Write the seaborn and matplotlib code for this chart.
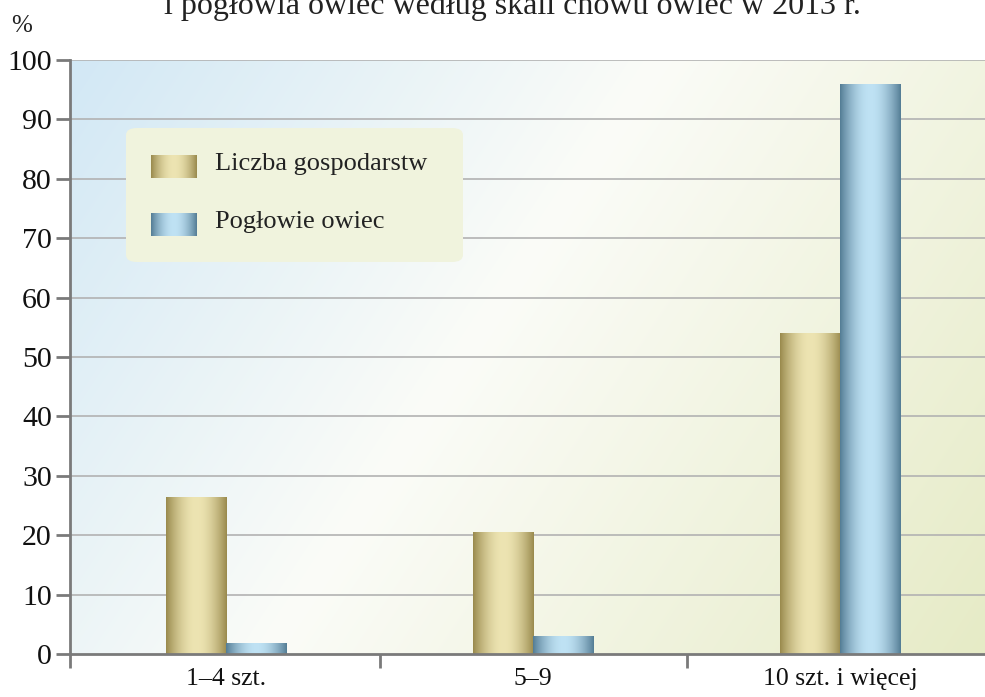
import numpy as np
import pandas as pd
import matplotlib
matplotlib.use("Agg")
import matplotlib.pyplot as plt
import seaborn as sns
from matplotlib.patches import FancyBboxPatch
from matplotlib.colors import to_rgb

categories = ["1–4 szt.", "5–9", "10 szt. i więcej"]
series_names = ["Liczba gospodarstw", "Pogłowie owiec"]
liczba_gospodarstw = [26.4, 20.5, 54.0]
poglowie_owiec = [1.8, 3.0, 95.8]
yticks = [0, 10, 20, 30, 40, 50, 60, 70, 80, 90, 100]
title_text = "i pogłowia owiec według skali chowu owiec w 2013 r."
unit_label = "%"

df = pd.DataFrame({
    "kat": categories * 2,
    "seria": [series_names[0]] * 3 + [series_names[1]] * 3,
    "val": liczba_gospodarstw + poglowie_owiec,
})

sns.set_theme(style="white")
plt.rcParams["font.family"] = ["Liberation Serif", "DejaVu Serif"]

W, H = 985, 697
fig = plt.figure(figsize=(W / 100, H / 100), dpi=100)
ax_left, ax_right, ax_top, ax_bot = 70, 985, 60, 654
ax = fig.add_axes([ax_left / W, 1 - ax_bot / H, (ax_right - ax_left) / W, (ax_bot - ax_top) / H])

colors = {"gold_edge": "#9a8b4e", "gold_mid": "#ede4b2", "blue_edge": "#557e96", "blue_mid": "#bfe2f4"}

sns.barplot(data=df, x="kat", y="val", hue="seria", order=categories, hue_order=series_names,
            palette=["#c8b97c", "#8fb5cc"], width=0.394, gap=0, saturation=1, ax=ax, legend=False,
            zorder=3, edgecolor="none", linewidth=0)

# background gradient (diagonal blue -> white -> yellow-green)
ny, nx = 200, 300
xx, yy = np.meshgrid(np.linspace(0, 1, nx), np.linspace(1, 0, ny))
t = (xx * 0.7 + (1 - yy) * 0.3)
c_blue = np.array(to_rgb("#d2e8f5"))
c_white = np.array(to_rgb("#fbfcf8"))
c_green = np.array(to_rgb("#e6ebc6"))
a = np.clip(t / 0.45, 0, 1)[..., None]
b = np.clip((t - 0.45) / 0.55, 0, 1)[..., None]
bg = np.where(t[..., None] < 0.45, c_blue * (1 - a) + c_white * a, c_white * (1 - b) + c_green * b)
ax.imshow(bg, extent=[0, 1, 0, 1], transform=ax.transAxes, aspect="auto", zorder=0, interpolation="bilinear")


def grad_strip(edge, mid, n=64):
    u = np.linspace(0, 1, n)
    f = np.sin(np.pi * u) ** 0.9
    e = np.array(to_rgb(edge)); m = np.array(to_rgb(mid))
    row = e[None, :] * (1 - f[:, None]) + m[None, :] * f[:, None]
    return row[None, :, :]


gold_img = grad_strip(colors["gold_edge"], colors["gold_mid"])
blue_img = grad_strip(colors["blue_edge"], colors["blue_mid"])

patches = list(ax.patches)
for i, p in enumerate(patches):
    x0, y0 = p.get_x(), p.get_y()
    w, h = p.get_width(), p.get_height()
    img = gold_img if i < 3 else blue_img
    ax.imshow(img, extent=[x0, x0 + w, y0, y0 + h], aspect="auto", zorder=3.5, interpolation="bilinear")

# legend box
lx0 = (126 - ax_left) / (ax_right - ax_left)
lx1 = (463 - ax_left) / (ax_right - ax_left)
ly0 = (ax_bot - 262) / (ax_bot - ax_top)
ly1 = (ax_bot - 128) / (ax_bot - ax_top)
box = FancyBboxPatch((lx0, ly0), lx1 - lx0, ly1 - ly0, boxstyle="round,pad=0,rounding_size=0.012",
                     transform=ax.transAxes, facecolor="#f0f3dd", edgecolor="none", zorder=5)
ax.add_patch(box)
sx0 = (151 - ax_left) / (ax_right - ax_left)
sx1 = (197 - ax_left) / (ax_right - ax_left)
tx = (215 - ax_left) / (ax_right - ax_left)
for img, (top, bottom), name in [(gold_img, (155, 178), series_names[0]), (blue_img, (213, 236), series_names[1])]:
    y_lo = (ax_bot - bottom) / (ax_bot - ax_top)
    y_hi = (ax_bot - top) / (ax_bot - ax_top)
    ax.imshow(img, extent=[sx0, sx1, y_lo, y_hi], transform=ax.transAxes, aspect="auto", zorder=6,
              interpolation="bilinear")
    ax.text(tx, (y_lo + y_hi) / 2 + 0.004, name, transform=ax.transAxes, va="center", ha="left",
            fontsize=19, color="#222222", zorder=7)

# axes styling: category centres at ~226 + 307*i px
unit_px = 307.0
c0_px = 226.0
xlo = -(c0_px - ax_left) / unit_px
ax.set_xlim(xlo, (ax_right - c0_px) / unit_px)
ax.set_ylim(0, 100)
ax.set_yticks(yticks)
ax.set_yticklabels([str(v) for v in yticks])
ax.set_xticks(range(len(categories)))
ax.set_xticklabels(categories)
ax.set_xticks([xlo, 0.5, 1.5], minor=True)
ax.tick_params(axis="x", which="major", bottom=True, length=0, pad=10, labelsize=18.5, labelcolor="#111111")
ax.tick_params(axis="x", which="minor", bottom=True, length=10, width=2, color="#7a7a7a", direction="out")
ax.tick_params(axis="y", which="major", left=True, length=10, width=2, color="#7a7a7a", direction="out", pad=3,
               labelsize=21.5, labelcolor="#111111")
ax.set_xlabel("")
ax.set_ylabel("")
for y in yticks[1:]:
    ax.axhline(y, color="#b2b2b2", lw=1.2, zorder=1)
for s in ["top", "right"]:
    ax.spines[s].set_visible(False)
for s in ["left", "bottom"]:
    ax.spines[s].set_color("#7a7a7a")
    ax.spines[s].set_linewidth(2)
    ax.spines[s].set_zorder(8)

fig.text(512 / W, 1 - 14 / H, title_text, ha="center", va="baseline", fontsize=23, color="#222222")
fig.text(22 / W, 1 - 26 / H, unit_label, ha="center", va="center", fontsize=18, color="#222222")

fig.savefig("out.png", dpi=100)
